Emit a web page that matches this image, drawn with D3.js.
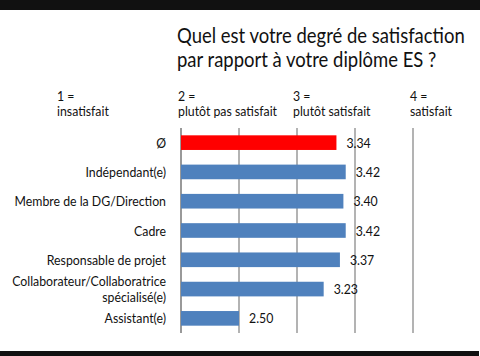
<!DOCTYPE html>
<html><head><meta charset="utf-8">
<script src="https://cdn.jsdelivr.net/npm/d3@7"></script>
<style>
body{margin:0;background:#fff;}
text{font-family:Lato,"Noto Sans",sans-serif;fill:#111;}
</style></head>
<body><svg id="c" width="480" height="356"></svg>
<script>
const categories = ["Ø","Indépendant(e)","Membre de la DG/Direction","Cadre","Responsable de projet","Collaborateur/Collaboratrice\nspécialisé(e)","Assistant(e)"];
const values = [3.34,3.42,3.40,3.42,3.37,3.23,2.50];
const valueLabels = ["3.34","3.42","3.40","3.42","3.37","3.23","2.50"];
const gridValues = [2,2.5,3,3.5,4];
const scaleLabels = [["1 =","insatisfait"],["2 =","plutôt pas satisfait"],["3 =","plutôt satisfait"],["4 =","satisfait"]];
const titleLines = ["Quel est votre degré de satisfaction","par rapport à votre diplôme ES ?"];

const SX = 0.88;
const svg = d3.select("#c");
const x = d3.scaleLinear().domain([2,4]).range([181,413]);
const y = d3.scaleBand().domain(categories).range([128,333]).paddingInner(0.5).paddingOuter(0.25);

function label(px, py, lines, size, anchor, lh){
  const g = svg.append("g").attr("transform",`translate(${px},${py}) scale(${SX},1)`);
  const t = g.append("text").attr("font-size",size).attr("text-anchor",anchor||"start");
  lines.forEach((l,j)=>t.append("tspan").attr("x",0).attr("dy",j?lh:0).text(l));
  return t;
}

// top & bottom bands
svg.append("rect").attr("x",0).attr("y",0).attr("width",480).attr("height",10).attr("fill","#111");
svg.append("rect").attr("x",0).attr("y",351).attr("width",479).attr("height",5).attr("fill","#111");

// title
label(177,43,titleLines,21,"start",24);

// scale labels
const slx = [57,178,293,410];
scaleLabels.forEach((l,i)=>label(slx[i],101,l,14,"start",15.5));

// grid
svg.selectAll(".grid").data(gridValues).join("line")
  .attr("x1",d=>x(d)).attr("x2",d=>x(d)).attr("y1",128).attr("y2",333)
  .attr("stroke",(d,i)=>i===0?"#555":"#808080").attr("stroke-width",1.2);

// bars
svg.selectAll(".bar").data(values).join("rect")
  .attr("x",x(2)).attr("y",(d,i)=>y(categories[i]))
  .attr("width",d=>x(d)-x(2)).attr("height",y.bandwidth())
  .attr("fill",(d,i)=>i===0?"#ff0000":"#4f81bd");

// value labels
values.forEach((v,i)=>label(x(v)+10, y(categories[i])+y.bandwidth()/2+5, [valueLabels[i]],14,"start",0));

// category labels
categories.forEach((c,i)=>{
  const parts = c.split("\n");
  const cy = y(c)+y.bandwidth()/2+5 - (parts.length-1)*8;
  label(166, cy, parts, 14, "end", 16);
});
</script></body></html>
